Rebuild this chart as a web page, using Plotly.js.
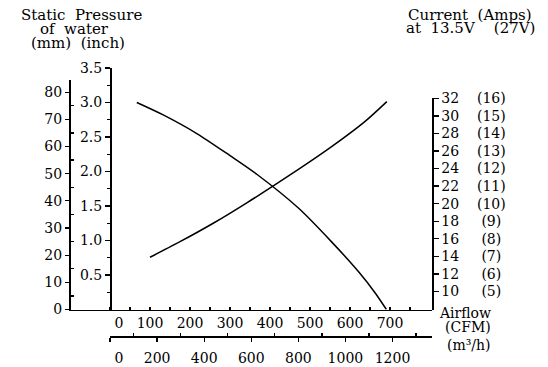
<!DOCTYPE html>
<html><head><meta charset="utf-8">
<script src="https://cdn.plot.ly/plotly-3.0.1.min.js"></script>
<style>html,body{margin:0;padding:0;background:#fff}#chart{width:548px;height:367px}</style>
</head><body><div id="chart"></div>
<script>
// ---- data ----
const cfmPressure   = [67, 133, 217, 300, 367, 471, 554, 621, 663, 691];
const pressureInch  = [3.0, 2.82, 2.55, 2.23, 1.96, 1.47, 0.98, 0.55, 0.24, 0.0];
const cfmCurrent    = [100, 175, 258, 342, 471, 554, 637, 692];
const currentAmps   = [13.9, 15.67, 17.77, 20.1, 23.9, 26.49, 29.34, 31.62];

// ---- tick labels ----
const cfmTicks      = [0, 100, 200, 300, 400, 500, 600, 700];
const cfmMinor      = [50, 150, 250, 350, 450, 550, 650, 750];
const m3hTicks      = [0, 200, 400, 600, 800, 1000, 1200];
const m3hMinor      = [100, 300, 500, 700, 900, 1100, 1300];
const inchTicks     = [0.5, 1.0, 1.5, 2.0, 2.5, 3.0, 3.5];
const inchMinor     = [0.25, 0.75, 1.25, 1.75, 2.25, 2.75, 3.25];
const mmTicks       = [0, 10, 20, 30, 40, 50, 60, 70, 80];
const mmMinor       = [5, 15, 25, 35, 45, 55, 65, 75];
const amps13Ticks   = [10, 12, 14, 16, 18, 20, 22, 24, 26, 28, 30, 32];
const amps27Labels  = [5, 6, 7, 8, 9, 10, 11, 12, 13, 14, 15, 16];

// ---- geometry helpers (pixel -> paper) ----
const M = {l: 40, r: 8, t: 68, b: 31};
const PW = 548 - M.l - M.r, PH = 367 - M.t - M.b;
const xp = px => (px - M.l) / PW;
const yp = py => (367 - M.b - py) / PH;
const X0 = 110, XR = 432, XMM = 69, Y0 = 309.5;
const pxPerCfm = 0.4;
const CFM_TO_M3H = 1.699;

const FONT = {family: 'DejaVu Serif', size: 14, color: '#000'};
const TFONT = {family: 'DejaVu Serif', size: 15, color: '#000'};
const pad0 = v => (v === 0 ? '\u2007\u20070' : String(v));
const SP2 = '\u00a0\u00a0';

const ampText = amps13Ticks.map((a, i) => {
  const hi = amps27Labels[i];
  return a + (hi < 10 ? '\u2007\u2007\u00a0(' : '\u2007\u00a0\u00a0(') + hi + ')';
});

const common = {showgrid: false, zeroline: false, showline: true, linecolor: '#000',
  linewidth: 1.5, tickcolor: '#000', tickwidth: 1.3, tickfont: FONT, fixedrange: true};

const data = [
  {x: cfmPressure, y: pressureInch, xaxis: 'x', yaxis: 'y', mode: 'lines',
   line: {color: '#000', width: 1.5, shape: 'spline', smoothing: 0.8}, hoverinfo: 'skip'},
  {x: cfmCurrent, y: currentAmps, xaxis: 'x', yaxis: 'y3', mode: 'lines',
   line: {color: '#000', width: 1.5, shape: 'spline', smoothing: 0.8}, hoverinfo: 'skip'},
  // empty trace so the m3/h and mm scales get drawn
  {x: [], y: [], xaxis: 'x2', yaxis: 'y2', mode: 'lines', hoverinfo: 'skip'}
];

const layout = {
  width: 548, height: 367, margin: M, paper_bgcolor: '#fff', plot_bgcolor: 'rgba(0,0,0,0)',
  showlegend: false, font: FONT,
  xaxis: Object.assign({}, common, {
    domain: [xp(XMM), xp(XR)], range: [-(X0 - XMM) / pxPerCfm, (XR - X0) / pxPerCfm],
    anchor: 'y', ticks: 'inside', ticklen: 3, tickmode: 'array',
    tickvals: cfmTicks, ticktext: cfmTicks.map(pad0),
    minor: {tickmode: 'array', tickvals: cfmMinor, ticks: 'inside', ticklen: 3, tickcolor: '#000'}
  }),
  xaxis2: Object.assign({}, common, {
    domain: [xp(X0), xp(XR)], range: [0, (XR - X0) / pxPerCfm * CFM_TO_M3H],
    anchor: 'free', position: 0, side: 'bottom', ticks: 'outside', ticklen: 4, ticklabelstandoff: 5,
    tickmode: 'array', tickvals: m3hTicks, ticktext: m3hTicks.map(pad0),
    minor: {tickmode: 'array', tickvals: m3hMinor, ticks: 'inside', ticklen: 3, tickcolor: '#000'}
  }),
  yaxis: Object.assign({}, common, {
    domain: [yp(Y0), 1], range: [0, 3.5], anchor: 'free', position: xp(X0), side: 'left',
    ticks: 'outside', ticklen: 5, tickmode: 'array', tickvals: inchTicks,
    ticktext: inchTicks.map(v => v.toFixed(1)),
    minor: {tickmode: 'array', tickvals: inchMinor, ticks: 'outside', ticklen: 3, tickcolor: '#000'}
  }),
  yaxis2: Object.assign({}, common, {
    domain: [yp(Y0), yp(80)], range: [0, (Y0 - 80) / ((Y0 - 68) / (3.5 * 25.4))],
    anchor: 'free', position: xp(XMM), side: 'left',
    ticks: 'outside', ticklen: 4, tickmode: 'array', tickvals: mmTicks, ticktext: mmTicks.map(String),
    minor: {tickmode: 'array', tickvals: mmMinor, ticks: 'inside', ticklen: 3, tickcolor: '#000'}
  }),
  yaxis3: Object.assign({}, common, {
    domain: [yp(Y0), yp(98.3)], range: [10 - (Y0 - 291.5) / 8.78, 32],
    anchor: 'x', side: 'right', ticks: 'outside', ticklen: 5,
    tickmode: 'array', tickvals: amps13Ticks, ticktext: ampText
  }),
  annotations: [
    {text: 'Static' + SP2 + 'Pressure', x: xp(81), y: yp(15), font: TFONT},
    {text: 'of' + SP2 + 'water', x: xp(74), y: yp(29), font: TFONT},
    {text: '(mm)' + SP2 + '(inch)', x: xp(78), y: yp(43), font: TFONT},
    {text: 'Current' + SP2 + '(Amps)', x: xp(470), y: yp(15), font: TFONT},
    {text: 'at' + SP2 + '13.5V\u00a0\u00a0\u00a0\u00a0(27V)', x: xp(470), y: yp(28), font: TFONT},
    {text: 'Airflow', x: xp(493), y: yp(313), xanchor: 'right'},
    {text: '(CFM)', x: xp(493), y: yp(327), xanchor: 'right'},
    {text: '(m\u00b3/h)', x: xp(493), y: yp(345), xanchor: 'right'}
  ].map(a => Object.assign({xref: 'paper', yref: 'paper', showarrow: false, font: FONT,
    xanchor: 'center', yanchor: 'middle'}, a))
};

Plotly.newPlot('chart', data, layout, {staticPlot: true, displayModeBar: false});
</script></body></html>
